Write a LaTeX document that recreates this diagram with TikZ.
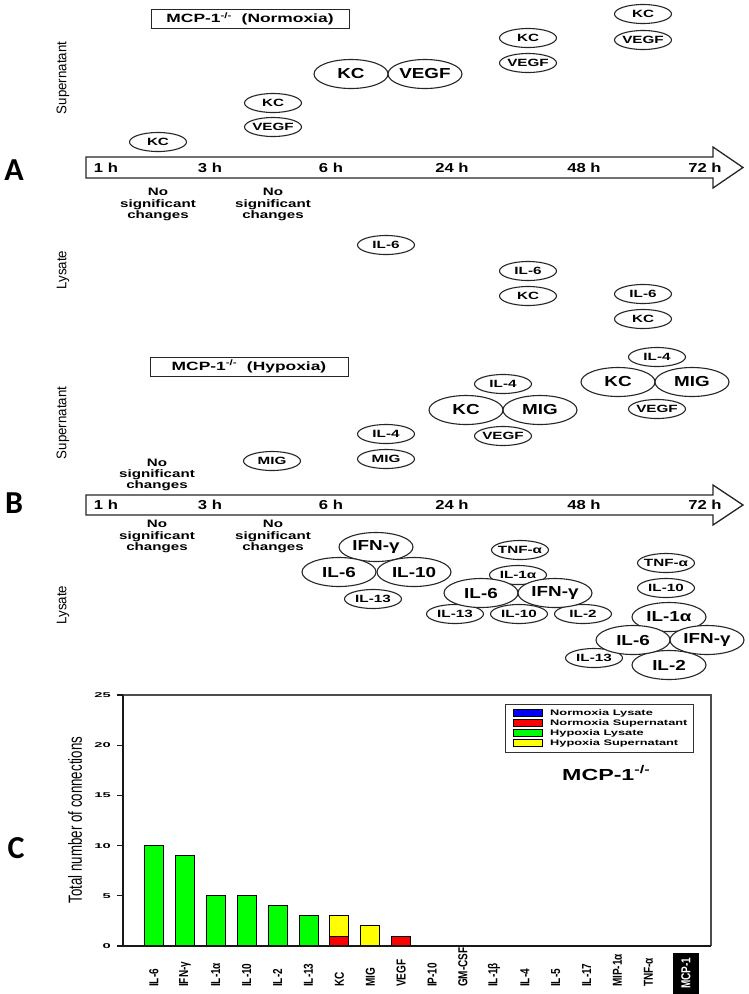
\documentclass[tikz,border=0pt]{standalone}
\usepackage{fontspec}
\setmainfont{Liberation Sans}
\newfontfamily\fsmall[FakeStretch=1.45]{Liberation Sans Bold}
\newfontfamily\fbig[FakeStretch=1.3]{Liberation Sans Bold}
\newfontfamily\ftime[FakeStretch=1.28]{Liberation Sans Bold}
\newfontfamily\fnote[FakeStretch=1.4]{Liberation Sans Bold}
\newfontfamily\ftitle[FakeStretch=1.45]{Liberation Sans Bold}
\newfontfamily\fleg[FakeStretch=1.6]{Liberation Sans Bold}
\newfontfamily\ftick[FakeStretch=2.1]{Liberation Sans Bold}
\newfontfamily\fside[FakeStretch=0.95]{Liberation Sans}
\newfontfamily\faxis[FakeStretch=0.7]{Liberation Sans}
\newfontfamily\fbar[FakeStretch=0.77]{Liberation Sans Bold}
\newfontfamily\fletter{Carlito}
\usetikzlibrary{shapes.geometric}
\newcommand\fsz[1]{\fontsize{#1}{#1}\selectfont}
\newcommand\zt[1]{\makebox[0pt]{#1}}
\definecolor{hg}{RGB}{0,255,0}
\definecolor{nr}{RGB}{255,0,0}
\definecolor{hy}{RGB}{255,255,0}
\definecolor{nb}{RGB}{0,0,255}
\tikzset{
  elbase/.style={ellipse, draw=black!85, line width=1.1pt, fill=white, inner sep=0pt},
  sm/.style={elbase, minimum width=57pt, minimum height=19pt, font=\fsmall\fsz{10.5}},
  bg/.style={elbase, minimum width=74pt, minimum height=29pt, font=\fbig\fsz{14.5}},
  tl/.style={font=\ftime\fsz{13}, inner sep=0pt},
  nsc/.style={align=center, font=\fnote\fsz{10.8}, inner sep=0pt},
  side/.style={rotate=90, font=\fside\fsz{14}, inner sep=0pt},
  letter/.style={font=\fletter\bfseries\fsz{32}, inner sep=0pt},
  titlebox/.style={draw=black!85, line width=1pt, fill=white, minimum width=198pt, minimum height=19pt, inner sep=0pt, font=\ftitle\fsz{12}},
  tarrow/.style={draw=black!85, line width=1.3pt, fill=white},
  barlab/.style={rotate=90, anchor=west, font=\fbar\fsz{13}, inner sep=0pt},
  ticklab/.style={anchor=east, font=\ftick\fsz{7}, inner sep=0pt},
  legtxt/.style={anchor=west, font=\fleg\fsz{8}, inner sep=0pt},
  bar/.style={draw=black, line width=0.9pt}
}
\begin{document}
\begin{tikzpicture}[x=1pt,y=-1pt]
\useasboundingbox (0,0) rectangle (748,994);

% ================= Panel A =================
\node[letter] (LA) at (14,170) {A};
\node[titlebox] (TA) at (250,19) {MCP-1\textsuperscript{-/-}\ \ (Normoxia)};
\node[side] (SA) at (63,78) {Supernatant};
\node[side] (LyA) at (63,270) {Lysate};

\draw[tarrow] (86,157) -- (713,157) -- (713,147) -- (743,167.5) -- (713,188) -- (713,178) -- (86,178) -- cycle;
\node[tl] (a1) at (106,167.5) {1 h};
\node[tl] (a3) at (210,167.5) {3 h};
\node[tl] (a6) at (331,167.5) {6 h};
\node[tl] (a24) at (452,167.5) {24 h};
\node[tl] (a48) at (584,167.5) {48 h};
\node[tl] (a72) at (705,167.5) {72 h};

\node[nsc] (nA1) at (158,204.5) {No\\[0.6pt]significant\\[0.6pt]changes};
\node[nsc] (nA2) at (273,204.5) {No\\[0.6pt]significant\\[0.6pt]changes};

% supernatant
\node[sm] (aKC1) at (158,142) {\zt{KC}};
\node[sm] (aKC3) at (273,103) {\zt{KC}};
\node[sm] (aVE3) at (273,127) {\zt{VEGF}};
\node[bg] (aKC6) at (351,74) {\zt{KC}};
\node[bg] (aVE6) at (425,74) {\zt{VEGF}};
\node[sm] (aKC24) at (528,38) {\zt{KC}};
\node[sm] (aVE24) at (528,63) {\zt{VEGF}};
\node[sm] (aKC48) at (643,14) {\zt{KC}};
\node[sm] (aVE48) at (643,40) {\zt{VEGF}};
% lysate
\node[sm] (aIL6a) at (386,245) {\zt{IL-6}};
\node[sm] (aIL6b) at (528,271) {\zt{IL-6}};
\node[sm] (aKCb) at (528,296) {\zt{KC}};
\node[sm] (aIL6c) at (643,294) {\zt{IL-6}};
\node[sm] (aKCc) at (643,319) {\zt{KC}};

% ================= Panel B =================
\node[letter] (LB) at (14,503) {B};
\node[titlebox] (TB) at (249,366.5) {MCP-1\textsuperscript{-/-}\ \ (Hypoxia)};
\node[side] (SB) at (63,423) {Supernatant};
\node[side] (LyB) at (63,605) {Lysate};

\draw[tarrow] (86,495) -- (713,495) -- (713,485) -- (743,505) -- (713,525) -- (713,515) -- (86,515) -- cycle;
\node[tl] (b1) at (106,505) {1 h};
\node[tl] (b3) at (210,505) {3 h};
\node[tl] (b6) at (331,505) {6 h};
\node[tl] (b24) at (452,505) {24 h};
\node[tl] (b48) at (584,505) {48 h};
\node[tl] (b72) at (705,505) {72 h};

\node[nsc] (nB0) at (157,475) {No\\[0.6pt]significant\\[0.6pt]changes};
\node[nsc] (nB1) at (157,536.5) {No\\[0.6pt]significant\\[0.6pt]changes};
\node[nsc] (nB2) at (273,536.5) {No\\[0.6pt]significant\\[0.6pt]changes};

% supernatant
\node[sm] (bMIG3) at (272,461) {\zt{MIG}};
\node[sm] (bIL46) at (386,434) {\zt{IL-4}};
\node[sm] (bMIG6) at (386,459) {\zt{MIG}};
\node[sm] (bIL424) at (503,384) {\zt{IL-4}};
\node[sm] (bVE24) at (503,436) {\zt{VEGF}};
\node[bg] (bKC24) at (466,410) {\zt{KC}};
\node[bg] (bMI24) at (540,410) {\zt{MIG}};
\node[sm] (bIL448) at (657,357) {\zt{IL-4}};
\node[sm] (bVE48) at (657,409) {\zt{VEGF}};
\node[bg] (bKC48) at (618,382) {\zt{KC}};
\node[bg] (bMI48) at (692,382) {\zt{MIG}};

% lysate 6h
\node[sm] (cIL13a) at (373,599) {\zt{IL-13}};
\node[bg] (cIFNa) at (376,547) {\zt{IFN-γ}};
\node[bg] (cIL6a) at (339,572) {\zt{IL-6}};
\node[bg] (cIL10a) at (414,572) {\zt{IL-10}};
% lysate 24h
\node[sm] (cTNFb) at (520,550) {\zt{TNF-α}};
\node[sm] (cIL1b) at (518,575) {\zt{IL-1α}};
\node[sm] (cIL13b) at (455,614) {\zt{IL-13}};
\node[sm] (cIL10b) at (519,614) {\zt{IL-10}};
\node[sm] (cIL2b) at (583,614) {\zt{IL-2}};
\node[bg] (cIL6b) at (481,593) {\zt{IL-6}};
\node[bg] (cIFNb) at (555,593) {\zt{IFN-γ}};
% lysate 72h
\node[sm] (cTNFc) at (666,563) {\zt{TNF-α}};
\node[sm] (cIL10c) at (666,588) {\zt{IL-10}};
\node[bg] (cIL1c) at (669,617) {\zt{IL-1α}};
\node[bg] (cIL2c) at (669,665) {\zt{IL-2}};
\node[sm] (cIL13c) at (594,658) {\zt{IL-13}};
\node[bg] (cIL6c) at (633,640) {\zt{IL-6}};
\node[bg] (cIFNc) at (707,640) {\zt{IFN-γ}};

% ================= Panel C =================
\node[letter] (LC) at (16,848) {C};
\node[rotate=90, font=\faxis\fsz{19}, inner sep=0pt] (yl) at (75,820) {Total number of connections};

% bars
\draw[bar, fill=hg] (144.5,946) rectangle (163.5,{946-10.04*10});
\draw[bar, fill=hg] (175.4,946) rectangle (194.4,{946-10.04*9});
\draw[bar, fill=hg] (206.3,946) rectangle (225.3,{946-10.04*5});
\draw[bar, fill=hg] (237.2,946) rectangle (256.2,{946-10.04*5});
\draw[bar, fill=hg] (268.1,946) rectangle (287.1,{946-10.04*4});
\draw[bar, fill=hg] (299.0,946) rectangle (318.0,{946-10.04*3});
\draw[bar, fill=nr] (329.9,946) rectangle (348.9,{946-10.04*1});
\draw[bar, fill=hy] (329.9,{946-10.04*1}) rectangle (348.9,{946-10.04*3});
\draw[bar, fill=hy] (360.8,946) rectangle (379.8,{946-10.04*2});
\draw[bar, fill=nr] (391.7,946) rectangle (410.7,{946-10.04*1});

% frame and axes
\draw[line width=1.2pt, black!70] (117,695) -- (711,695) -- (711,946);
\draw[line width=1.5pt, black!90] (123,695) -- (123,946) -- (711,946);
\foreach \v in {0,5,10,15,20,25} {
  \draw[line width=1.2pt, black!90] (117,{946-10.04*\v}) -- (123,{946-10.04*\v});
  \node[ticklab] (tk\v) at (111,{946-10.04*\v}) {\v};
}

% bar labels
\foreach \lab [count=\i from 0] in {IL-6,IFN-γ,IL-1α,IL-10,IL-2,IL-13,KC,MIG,VEGF,IP-10,GM-CSF,IL-1β,IL-4,IL-5,IL-17,MIP-1α,TNF-α} {
  \node[barlab] (bl\i) at ({154+30.9*\i},987) {\lab};
}
\node[rotate=90, font=\fbar\fsz{13}, fill=black, text=white, inner xsep=5pt, inner ysep=8pt, anchor=west] (bl17) at (686,994) {MCP-1};

% legend
\node[draw=black!80, line width=1pt, minimum width=188pt, minimum height=48pt, inner sep=0pt] (leg) at (599,728) {};
\draw[fill=nb, line width=0.8pt] (513,709.5) rectangle (542,716.5);
\draw[fill=nr, line width=0.8pt] (513,719.5) rectangle (542,726.5);
\draw[fill=hg, line width=0.8pt] (513,729.5) rectangle (542,736.5);
\draw[fill=hy, line width=0.8pt] (513,739.5) rectangle (542,746.5);
\node[legtxt] (lg1) at (550,713) {Normoxia Lysate};
\node[legtxt] (lg2) at (550,723) {Normoxia Supernatant};
\node[legtxt] (lg3) at (550,733) {Hypoxia Lysate};
\node[legtxt] (lg4) at (550,743) {Hypoxia Supernatant};

\node[anchor=west, inner sep=0pt, font=\ftitle\fsz{16}] (mcp) at (562,773) {MCP-1\textsuperscript{-/-}};
\end{tikzpicture}
\end{document}
